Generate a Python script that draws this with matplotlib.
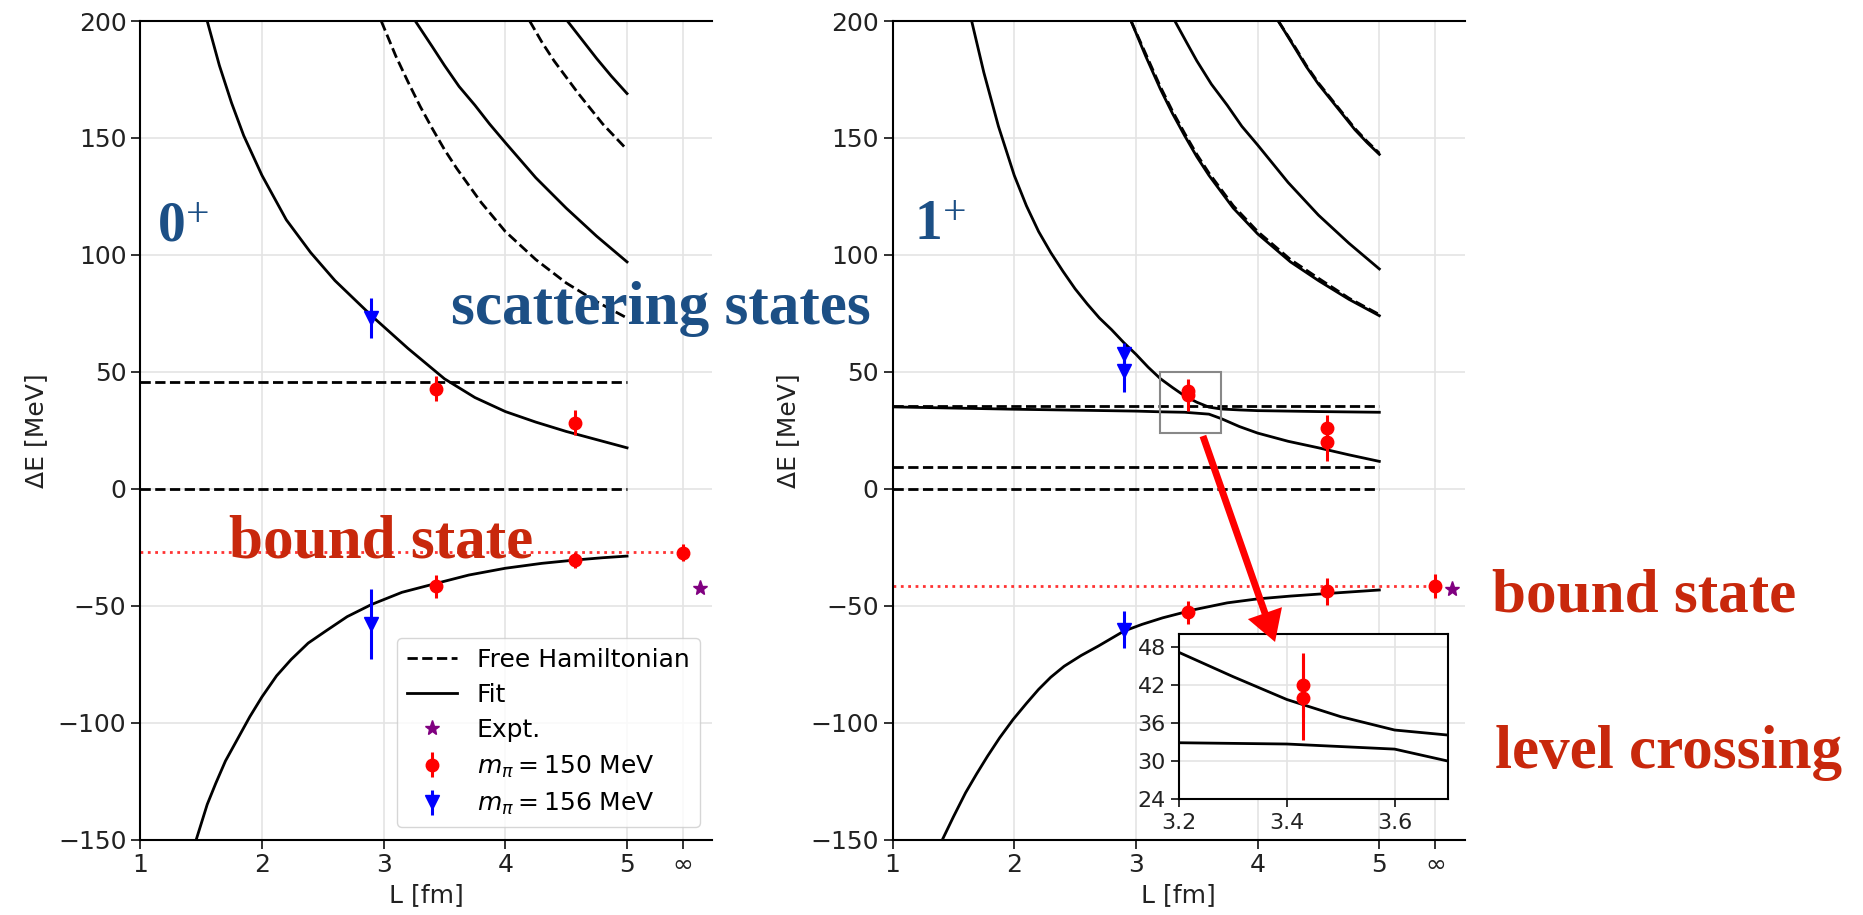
import matplotlib
matplotlib.use('Agg')
import matplotlib.pyplot as plt
from matplotlib.patches import Rectangle, FancyArrowPatch
from matplotlib.lines import Line2D

plt.rcParams['font.family'] = ['DejaVu Sans']
plt.rcParams['font.size'] = 18
plt.rcParams['mathtext.fontset'] = 'dejavusans'

INF = 5.46  # where the "infinity" column sits on the L axis

# ---------------- 0+ channel ----------------
L_fit0_a = [1.55, 1.65, 1.75, 1.85, 2.0, 2.2, 2.4, 2.6, 2.9, 3.2, 3.5, 3.75, 4.0, 4.25, 4.5, 4.75, 5.0]
E_fit0_a = [200, 181, 165, 151, 134, 115, 101, 89, 74, 60, 47, 39, 33, 28.5, 24.5, 21, 17.5]
L_fit0_b = [3.26, 3.4, 3.5, 3.62, 3.75, 3.87, 4.0, 4.25, 4.5, 4.75, 5.0]
E_fit0_b = [200, 189, 181, 172, 164, 156, 148, 133, 120, 108, 97]
L_fit0_c = [4.51, 4.63, 4.75, 4.87, 5.0]
E_fit0_c = [200, 192, 184, 176.5, 169]
L_bound0 = [1.46, 1.55, 1.62, 1.7, 1.81, 1.9, 2.0, 2.12, 2.24, 2.38, 2.52, 2.7, 2.9, 3.15,
            3.43, 3.7, 4.0, 4.3, 4.57, 4.8, 5.0]
E_bound0 = [-150, -135, -126, -116.4, -106, -97.5, -89, -80, -73, -66, -61, -54.7, -49.5, -44.3,
            -40.5, -36.9, -34, -31.9, -30.5, -29.5, -28.8]
L_free0_a = [2.98, 3.1, 3.2, 3.3, 3.4, 3.5, 3.6, 3.8, 4.0, 4.25, 4.5, 4.75, 5.0]
E_free0_a = [200, 185, 174, 163.5, 154, 145, 137, 122.5, 110, 98, 88, 80, 73]
L_free0_b = [4.2, 4.3, 4.4, 4.5, 4.6, 4.7, 4.8, 4.9, 5.0]
E_free0_b = [200, 191, 183, 176, 169, 162.5, 156, 150.5, 145]
free0_flat = [45.5, 0]
bound0_inf = -27.2

L_m150_0 = [3.43, 4.57, 3.43, 4.57, INF]
E_m150_0 = [42.8, 28.3, -41.8, -30.4, -27.4]
err_m150_0 = [5.4, 5.5, 4.8, 3.5, 3.7]
L_m156_0 = [2.9, 2.9]
E_m156_0 = [73, -58]
err_m156_0 = [8.7, 15]
L_expt0, E_expt0 = 5.6, -42.5

# ---------------- 1+ channel ----------------
L_fit1_up = [1.65, 1.75, 1.87, 2.0, 2.1, 2.2, 2.3, 2.4, 2.5, 2.6, 2.7, 2.8, 2.9, 3.0, 3.1, 3.2,
             3.3, 3.4, 3.5, 3.6, 3.7, 3.85, 4.0, 4.5, 5.0]
E_fit1_up = [200, 178, 155, 134, 121, 110, 101, 93, 85.5, 79, 73, 68, 62.5, 57.5, 52, 47.1,
             43.3, 39.7, 37, 34.9, 34.1, 33.7, 33.4, 33.0, 32.7]
L_fit1_lo = [1.0, 1.5, 2.0, 2.5, 3.0, 3.2, 3.4, 3.6, 3.7, 3.85, 4.0, 4.25, 4.5, 4.75, 5.0]
E_fit1_lo = [35.0, 34.5, 34.0, 33.6, 33.2, 32.9, 32.7, 31.9, 30.0, 26.6, 23.8, 20.3, 17.5, 14.5, 11.7]
L_fit1_a = [2.96, 3.08, 3.2, 3.3, 3.4, 3.5, 3.6, 3.8, 4.0, 4.27, 4.5, 4.75, 5.0]
E_fit1_a = [200, 185, 171, 160.5, 151, 142, 134, 120, 109, 97, 89, 81, 74]
L_fit1_b = [3.32, 3.42, 3.5, 3.62, 3.75, 3.87, 4.0, 4.25, 4.5, 4.75, 5.0]
E_fit1_b = [200, 190.5, 183, 173, 164, 155, 147, 131, 117, 105, 94]
L_fit1_c = [4.17, 4.3, 4.4, 4.5, 4.6, 4.7, 4.8, 4.9, 5.0]
E_fit1_c = [200, 189, 180.5, 173, 166.5, 160, 153.5, 148, 143]
L_bound1 = [1.41, 1.5, 1.6, 1.69, 1.78, 1.88, 1.99, 2.1, 2.2, 2.3, 2.41, 2.55, 2.69, 2.9,
            3.05, 3.22, 3.48, 3.75, 4.0, 4.27, 4.6, 5.0]
E_bound1 = [-150, -140.3, -130, -122, -114.4, -106.5, -98.7, -91.8, -85.8, -80.6, -75.9, -71.3,
            -67.3, -60.9, -58, -55.2, -51.7, -48.8, -47.1, -45.9, -44.7, -43.3]
L_free1_a = [2.96, 3.08, 3.2, 3.3, 3.4, 3.5, 3.6, 3.8, 4.0, 4.27, 4.5, 4.75, 5.0]
E_free1_a = [200, 186, 172, 161.5, 152, 143, 135, 121, 110, 98, 90, 81.5, 74.5]
L_free1_c = [4.17, 4.3, 4.4, 4.5, 4.6, 4.7, 4.8, 4.9, 5.0]
E_free1_c = [200, 189.5, 181, 173.5, 167, 160.5, 154, 148.5, 143.5]
free1_flat = [35.4, 9.2, 0]
bound1_inf = -41.6

L_m150_1 = [3.43, 3.43, 4.57, 4.57, 3.43, 4.57, INF]
E_m150_1 = [42, 40, 26, 20, -52.8, -43.8, -41.6]
err_m150_1 = [5, 6.6, 5.6, 8, 5, 5.8, 5]
L_m156_1 = [2.9, 2.9, 2.9]
E_m156_1 = [57.5, 50.5, -60.2]
err_m156_1 = [5, 9, 8]
L_expt1, E_expt1 = 5.6, -42.8

xticks = [1, 2, 3, 4, 5, INF]
xticklabels = ['1', '2', '3', '4', '5', '∞']
yticks = [-150, -100, -50, 0, 50, 100, 150, 200]

LW = 2.0


def setup(ax):
    ax.set_xlim(1, 5.7)
    ax.set_ylim(-150, 200)
    ax.set_xticks(xticks)
    ax.set_xticklabels(xticklabels)
    ax.set_yticks(yticks)
    ax.grid(True, color='#e4e4e4', lw=1.2)
    ax.set_axisbelow(True)
    ax.spines['right'].set_visible(False)
    for s in ax.spines.values():
        s.set_linewidth(1.5)
    ax.tick_params(length=6.5, width=1.3, labelsize=18, colors='#222222')
    ax.set_xlabel('L [fm]', fontsize=18, color='#222222')
    ax.set_ylabel('ΔE [MeV]', fontsize=18, color='#222222', labelpad=7)


def points(ax, Lr, Er, er, Lb, Eb, eb, Lx, Ex):
    h1 = ax.errorbar(Lr, Er, yerr=er, fmt='o', color='red', ms=9, elinewidth=2.2,
                     capsize=0, zorder=6)
    h2 = ax.errorbar(Lb, Eb, yerr=eb, fmt='v', color='blue', ms=10, elinewidth=2.2,
                     capsize=0, zorder=6)
    h3, = ax.plot([Lx], [Ex], '*', color='purple', ms=11, ls='none', zorder=6)
    return h1, h2, h3


fig = plt.figure(figsize=(18.63, 9.15), dpi=100)
ax0 = fig.add_axes([0.0753, 0.0825, 0.3070, 0.8945])
ax1 = fig.add_axes([0.4791, 0.0825, 0.3070, 0.8945])

# ---- left panel (0+) ----
setup(ax0)
for e in free0_flat:
    ax0.plot([1, 5], [e, e], 'k--', lw=LW)
ax0.plot(L_free0_a, E_free0_a, 'k--', lw=LW)
ax0.plot(L_free0_b, E_free0_b, 'k--', lw=LW)
for L, E in [(L_fit0_a, E_fit0_a), (L_fit0_b, E_fit0_b), (L_fit0_c, E_fit0_c), (L_bound0, E_bound0)]:
    ax0.plot(L, E, 'k-', lw=LW)
ax0.plot([1, INF], [bound0_inf, bound0_inf], ':', color='#ff3333', lw=2)
hr, hb, hx = points(ax0, L_m150_0, E_m150_0, err_m150_0, L_m156_0, E_m156_0, err_m156_0,
                    L_expt0, E_expt0)
hfree = Line2D([], [], color='k', ls='--', lw=LW)
hfit = Line2D([], [], color='k', ls='-', lw=LW)
ax0.legend([hfree, hfit, hx, hr, hb],
           ['Free Hamiltonian', 'Fit', 'Expt.', r'$m_\pi = 150$ MeV', r'$m_\pi = 156$ MeV'],
           loc='lower right', fontsize=18, labelspacing=0.45)

# ---- right panel (1+) ----
setup(ax1)
for e in free1_flat:
    ax1.plot([1, 5], [e, e], 'k--', lw=LW)
ax1.plot(L_free1_a, E_free1_a, 'k--', lw=LW)
ax1.plot(L_free1_c, E_free1_c, 'k--', lw=LW)
for L, E in [(L_fit1_up, E_fit1_up), (L_fit1_lo, E_fit1_lo), (L_fit1_a, E_fit1_a),
             (L_fit1_b, E_fit1_b), (L_fit1_c, E_fit1_c), (L_bound1, E_bound1)]:
    ax1.plot(L, E, 'k-', lw=LW)
ax1.plot([1, INF], [bound1_inf, bound1_inf], ':', color='#ff3333', lw=2)
points(ax1, L_m150_1, E_m150_1, err_m150_1, L_m156_1, E_m156_1, err_m156_1, L_expt1, E_expt1)
ax1.add_patch(Rectangle((3.2, 24), 0.5, 26, fill=False, ec='#888888', lw=1.5, zorder=7))

# ---- inset: level crossing ----
axi = fig.add_axes([0.6329, 0.1264, 0.1446, 0.1807])
axi.plot(L_fit1_up, E_fit1_up, 'k-', lw=LW)
axi.plot(L_fit1_lo, E_fit1_lo, 'k-', lw=LW)
axi.errorbar(L_m150_1[:2], E_m150_1[:2], yerr=err_m150_1[:2], fmt='o', color='red', ms=9,
             elinewidth=2.2, capsize=0, zorder=6)
axi.set_xlim(3.2, 3.7)
axi.set_ylim(24, 50)
axi.set_xticks([3.2, 3.4, 3.6])
axi.set_yticks([24, 30, 36, 42, 48])
axi.grid(True, color='#e4e4e4', lw=1.2)
axi.set_axisbelow(True)
for s in axi.spines.values():
    s.set_linewidth(1.5)
axi.tick_params(length=6, width=1.3, labelsize=16, colors='#222222')

# ---- arrow from zoom box to inset ----
fig.add_artist(FancyArrowPatch((0.6457, 0.5235), (0.6844, 0.2984), transform=fig.transFigure,
                               arrowstyle='simple,head_length=22,head_width=26,tail_width=5',
                               mutation_scale=1, color='red', lw=0, shrinkA=0, shrinkB=0,
                               zorder=10))

# ---- slide annotations ----
blue = '#1c4f85'
red = '#c8280c'
serif = 'Liberation Serif'
fig.text(0.0848, 0.7377, '0', fontsize=40, fontweight='bold', family=serif, color=blue)
fig.text(0.0998, 0.764, '+', fontsize=30, family=serif, color=blue, va='center')
fig.text(0.4911, 0.7388, '1', fontsize=40, fontweight='bold', family=serif, color=blue)
fig.text(0.5062, 0.7667, '+', fontsize=30, family=serif, color=blue, va='center')
fig.text(0.2421, 0.6459, 'scattering states', fontsize=44, fontweight='bold', family=serif,
         color=blue)
fig.text(0.1227, 0.3902, 'bound state', fontsize=44, fontweight='bold', family=serif, color=red)
fig.text(0.8008, 0.3322, 'bound state', fontsize=44, fontweight='bold', family=serif, color=red)
fig.text(0.8025, 0.1607, 'level crossing', fontsize=44, fontweight='bold', family=serif,
         color=red)

fig.savefig('out.png', dpi=100)
